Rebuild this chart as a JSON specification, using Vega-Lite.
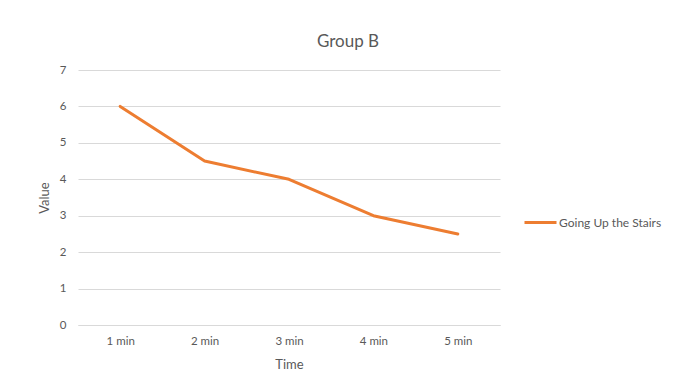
{
  "$schema": "https://vega.github.io/schema/vega-lite/v6.json",
  "autosize": "none",
  "width": 422,
  "height": 255,
  "padding": {"left": 78, "top": 70, "right": 186, "bottom": 56},
  "background": "white",
  "title": {
    "text": "Group B",
    "anchor": "middle",
    "dx": 59,
    "offset": 13,
    "font": "Lato",
    "fontSize": 17,
    "fontWeight": "normal",
    "color": "#595959"
  },
  "data": {
    "values": [
      {"time": "1 min", "value": 6, "series": "Going Up the Stairs"},
      {"time": "2 min", "value": 4.5, "series": "Going Up the Stairs"},
      {"time": "3 min", "value": 4, "series": "Going Up the Stairs"},
      {"time": "4 min", "value": 3, "series": "Going Up the Stairs"},
      {"time": "5 min", "value": 2.5, "series": "Going Up the Stairs"}
    ]
  },
  "mark": {"type": "line", "strokeWidth": 3, "strokeCap": "round", "strokeJoin": "round"},
  "encoding": {
    "x": {
      "field": "time",
      "type": "ordinal",
      "scale": {"type": "point", "padding": 0.5},
      "axis": {
        "title": "Time",
        "labelAngle": 0,
        "ticks": false,
        "domainColor": "#d9d9d9",
        "domainWidth": 1,
        "labelPadding": 10,
        "titlePadding": 12
      }
    },
    "y": {
      "field": "value",
      "type": "quantitative",
      "scale": {"domain": [0, 7], "nice": false},
      "axis": {
        "title": "Value",
        "values": [0, 1, 2, 3, 4, 5, 6, 7],
        "domain": false,
        "ticks": false,
        "labelPadding": 12,
        "titlePadding": 8
      }
    },
    "color": {
      "field": "series",
      "type": "nominal",
      "scale": {"range": ["#ED7D31"]},
      "legend": {
        "title": null,
        "orient": "none",
        "legendX": 445,
        "legendY": 135,
        "symbolType": "stroke",
        "symbolSize": 1024,
        "symbolStrokeWidth": 3,
        "labelOffset": 1,
        "padding": 0
      }
    }
  },
  "config": {
    "view": {"stroke": null},
    "axis": {
      "gridColor": "#d9d9d9",
      "gridWidth": 1,
      "labelFont": "Lato",
      "labelFontSize": 11.5,
      "labelColor": "#595959",
      "titleFont": "Lato",
      "titleFontSize": 13,
      "titleFontWeight": "normal",
      "titleColor": "#595959"
    },
    "axisX": {"grid": false},
    "legend": {
      "labelFont": "Lato",
      "labelFontSize": 12,
      "labelColor": "#595959"
    }
  }
}
